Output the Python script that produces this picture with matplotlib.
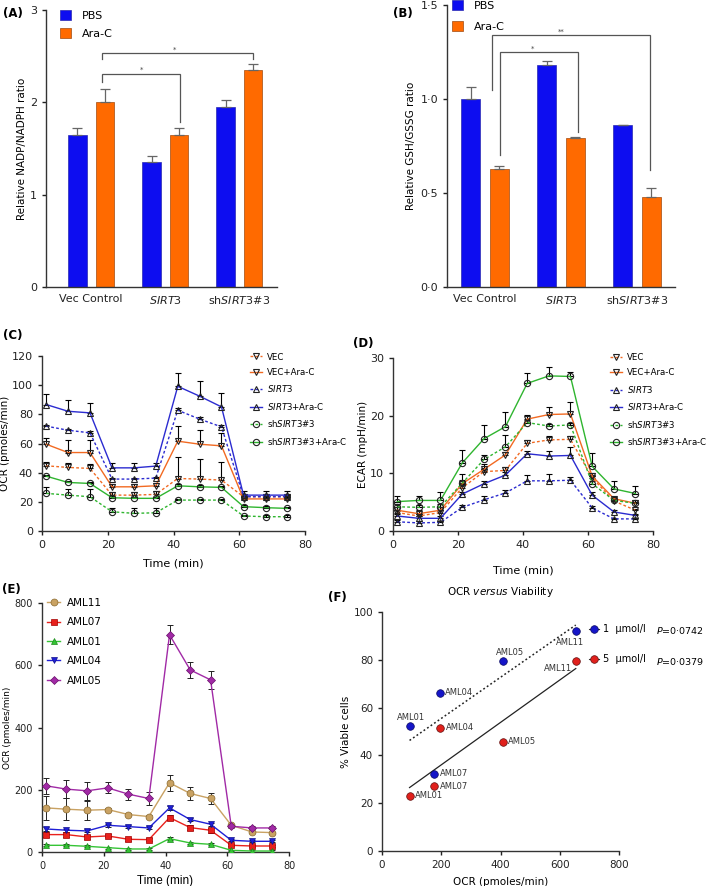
import matplotlib
matplotlib.use('Agg')
import matplotlib.pyplot as plt
from matplotlib.lines import Line2D
import numpy as np

plt.rcParams['font.family'] = ['DejaVu Sans']
plt.rcParams['mathtext.fontset'] = 'dejavusans'

# (A) / (B) bar panels
groups = ['Vec Control', r'$\mathit{SIRT3}$', r'sh$\mathit{SIRT3\#3}$']
nadp_pbs = [1.65, 1.35, 1.95]
nadp_pbs_err = [0.07, 0.07, 0.07]
nadp_arac = [2.00, 1.65, 2.35]
nadp_arac_err = [0.14, 0.07, 0.07]

gsh_pbs = [1.00, 1.18, 0.86]
gsh_pbs_err = [0.065, 0.022, 0.003]
gsh_arac = [0.63, 0.795, 0.478]
gsh_arac_err = [0.013, 0.004, 0.046]

# (C) / (D) Seahorse time course
time_points = [1.3, 7.9, 14.6, 21.3, 28.0, 34.6, 41.3, 48.0, 54.6, 61.3, 68.0, 74.6]
series_labels = ['VEC', 'VEC+Ara-C', r'$\mathit{SIRT3}$', r'$\mathit{SIRT3}$+Ara-C',
                 r'sh$\mathit{SIRT3\#3}$', r'sh$\mathit{SIRT3\#3}$+Ara-C']

ocr_vec = [44.7, 43.6, 42.9, 24.6, 24.6, 25.1, 36.0, 35.6, 34.9, 23.5, 23.5, 23.5]
ocr_vec_err = [2.5, 3, 3, 2, 2, 2, 15, 14, 12.5, 2, 2, 2]
ocr_vec_arac = [59.5, 53.8, 53.8, 30.3, 30.3, 31.0, 61.6, 59.5, 58.4, 22.0, 22.0, 22.0]
ocr_vec_arac_err = [4.5, 8.5, 8.5, 2, 2, 2, 10.5, 10, 9, 2, 2, 2]
ocr_sirt3 = [71.9, 69.1, 67.3, 35.6, 35.6, 36.3, 82.8, 76.7, 71.4, 23.5, 23.5, 23.5]
ocr_sirt3_err = [1.0, 1.0, 1.0, 1.0, 1.0, 1.0, 1.5, 1.5, 1.5, 1.0, 1.0, 1.0]
ocr_sirt3_arac = [86.7, 82.1, 81.0, 43.3, 43.3, 44.5, 99.2, 92.4, 85.1, 24.6, 24.6, 24.6]
ocr_sirt3_arac_err = [7.5, 7.6, 6.8, 3, 3, 2.3, 9.2, 10.3, 9.8, 2.5, 3, 3]
ocr_sh = [25.8, 24.6, 23.5, 13.2, 12.1, 12.5, 21.2, 21.2, 21.2, 10.3, 9.8, 9.8]
ocr_sh_err = [4.5, 4.5, 5, 2.5, 3.5, 3, 1, 1, 1, 1, 1, 1]
ocr_sh_arac = [37.6, 33.3, 32.6, 22.8, 22.4, 22.4, 31.0, 30.3, 29.9, 16.7, 16.0, 15.5]
ocr_sh_arac_err = [1, 1, 1, 1, 1, 1, 1, 1, 1, 1, 1, 1]

ecar_vec = [3.2, 2.6, 3.2, 7.5, 10.3, 10.5, 15.2, 15.8, 15.9, 9.2, 5.2, 3.6]
ecar_vec_err = [0.4, 0.4, 0.4, 0.5, 0.6, 0.6, 0.6, 0.6, 0.6, 0.4, 0.3, 0.3]
ecar_vec_arac = [3.6, 3.0, 3.6, 8.2, 10.7, 13.2, 19.4, 20.2, 20.3, 9.5, 5.6, 4.8]
ecar_vec_arac_err = [0.5, 0.6, 0.5, 1.6, 1.0, 0.5, 0.8, 1.3, 2.1, 0.5, 0.3, 0.5]
ecar_sirt3 = [1.6, 1.4, 1.5, 4.1, 5.4, 6.6, 8.7, 8.7, 8.8, 4.0, 2.1, 2.1]
ecar_sirt3_err = [0.3, 0.3, 0.3, 0.4, 0.6, 0.5, 1.0, 1.1, 0.6, 0.4, 0.2, 0.2]
ecar_sirt3_arac = [2.6, 2.2, 2.2, 6.4, 8.2, 9.7, 13.4, 13.0, 13.1, 6.2, 3.3, 2.7]
ecar_sirt3_arac_err = [0.4, 0.4, 0.4, 0.4, 0.4, 0.6, 0.5, 0.8, 1.4, 0.5, 0.3, 0.3]
ecar_sh = [4.2, 4.1, 4.2, 8.3, 12.4, 14.6, 18.8, 18.2, 18.4, 8.2, 5.3, 4.8]
ecar_sh_err = [0.4, 0.4, 0.4, 0.5, 0.8, 2.1, 0.4, 0.4, 0.4, 0.4, 0.3, 0.3]
ecar_sh_arac = [5.1, 5.3, 5.3, 11.8, 16.0, 18.1, 25.6, 26.9, 26.8, 11.2, 7.3, 6.5]
ecar_sh_arac_err = [0.9, 0.8, 1.4, 2.2, 2.3, 2.5, 1.8, 1.6, 0.8, 2.3, 1.3, 1.3]

# (E) primary AML OCR
aml_labels = ['AML11', 'AML07', 'AML01', 'AML04', 'AML05']
aml11_ocr = [141.8, 137.5, 134.3, 136.4, 120.3, 113.9, 222.3, 188.0, 171.9, 85.9, 64.4, 62.3]
aml11_err = [38, 35, 30, 5, 5, 5, 25, 20, 18, 5, 3, 3]
aml07_ocr = [55.9, 55.9, 48.3, 51.6, 40.8, 39.7, 110.6, 78.4, 69.8, 21.5, 19.3, 19.3]
aml07_err = [8, 8, 5, 5, 5, 5, 8, 8, 8, 3, 3, 3]
aml01_ocr = [21.5, 21.5, 18.3, 14.0, 9.7, 9.7, 43.0, 29.0, 24.7, 5.4, 3.2, 3.2]
aml01_err = [3, 3, 3, 3, 3, 3, 4, 3, 3, 2, 2, 2]
aml04_ocr = [74.0, 70.0, 67.7, 85.9, 81.6, 77.3, 141.8, 104.2, 89.2, 37.6, 34.4, 34.4]
aml04_err = [5, 5, 5, 5, 5, 5, 6, 5, 5, 3, 3, 3]
aml05_ocr = [212.7, 202.0, 196.6, 206.0, 185.8, 171.9, 698.0, 585.0, 553.0, 82.7, 77.3, 77.3]
aml05_err = [25, 28, 28, 18, 18, 20, 30, 25, 30, 5, 5, 5]

# (F) OCR versus viability
ocr_max = [93, 176, 196, 407, 654]          # AML01, AML07, AML04, AML05, AML11
viab_1um = [52.2, 32.4, 66.3, 79.7, 92.0]
viab_5um = [23.2, 27.1, 51.6, 45.7, 79.3]
viab_names = ['AML01', 'AML07', 'AML04', 'AML05', 'AML11']
p_values = ['0\u00b70742', '0\u00b70379']

BLUE = '#0d0df0'
ORANGE = '#ff6a00'
L_ORANGE = '#f26a22'
L_BLUE = '#2b2bd0'
L_GREEN = '#2fb52f'
DASH = (0, (2, 1.6))


def style_axes(ax, size=8):
    ax.spines[['top', 'right']].set_visible(False)
    for s in ['left', 'bottom']:
        ax.spines[s].set_linewidth(1.0)
        ax.spines[s].set_color('#333333')
    ax.tick_params(direction='out', length=3, width=1, labelsize=size,
                   colors='#222222')


def bracket(ax, x1, x2, top, end1, end2, mark, mark_x, mark_y):
    ax.plot([x1, x1, x2, x2], [end1, top, top, end2], color='#555555', lw=0.9,
            solid_joinstyle='miter')
    ax.text(mark_x, mark_y, mark, ha='center', va='center', fontsize=5,
            color='#444444')


def bar_panel(ax, pbs, pbs_err, arac, arac_err):
    x = np.arange(len(groups))
    z = np.zeros(len(groups))
    ekw = dict(ecolor='#666666', lw=0.9, capsize=3.5, capthick=0.9)
    ax.bar(x - 0.185, pbs, 0.25, color=BLUE, edgecolor='#2a2ab0', lw=0.5,
           yerr=[z, pbs_err], error_kw=ekw, label='PBS')
    ax.bar(x + 0.185, arac, 0.25, color=ORANGE, edgecolor='#a04a10', lw=0.5,
           yerr=[z, arac_err], error_kw=ekw, label='Ara-C')
    ax.set_xticks(x)
    ax.set_xticklabels(groups, fontsize=8)


def time_panel(ax, values, errors, ylim, yticks, ylabel):
    colors = [L_ORANGE, L_ORANGE, L_BLUE, L_BLUE, L_GREEN, L_GREEN]
    markers = ['v', 'v', '^', '^', 'o', 'o']
    styles = [DASH, '-', DASH, '-', DASH, '-']
    t = np.array(time_points)
    for vals, errs, c, m, ls, lab in zip(values, errors, colors, markers, styles,
                                         series_labels):
        ax.errorbar(t, vals, yerr=[np.zeros(len(t)), errs], fmt='none',
                    ecolor='black', elinewidth=0.8, capsize=2.5, capthick=0.8,
                    zorder=2)
        ax.plot(t, vals, color=c, ls=ls, lw=1.0, marker=m, ms=4.5,
                mfc='none', mec='#222222', mew=0.8, zorder=3, label=lab)
    ax.set_xlim(0, 80)
    ax.set_ylim(*ylim)
    ax.set_xticks([0, 20, 40, 60, 80])
    ax.set_yticks(yticks)
    ax.set_ylabel(ylabel, fontsize=7.5, labelpad=1)
    style_axes(ax)


def main():
    fig = plt.figure(figsize=(7.09, 8.86), dpi=100)
    W, H = 709.0, 886.0

    def axes_px(l, r, t, b):
        return fig.add_axes([l / W, 1 - b / H, (r - l) / W, (b - t) / H])

    # (A)
    ax = axes_px(46, 277, 10, 287)
    bar_panel(ax, nadp_pbs, nadp_pbs_err, nadp_arac, nadp_arac_err)
    ax.set_xlim(-0.61, 2.51)
    ax.set_ylim(0, 3)
    ax.set_yticks([0, 1, 2, 3])
    ax.set_ylabel('Relative NADP/NADPH ratio', fontsize=7.5, labelpad=2)
    style_axes(ax)
    ax.tick_params(axis='x', length=0, pad=5)
    bracket(ax, 0.145, 2.19, 2.53, 2.47, 2.47, '*', 1.13, 2.57)
    bracket(ax, 0.145, 1.20, 2.31, 2.22, 1.79, '*', 0.685, 2.35)
    ax.legend(loc='upper left', bbox_to_anchor=(0.06, 1.0), frameon=False,
              fontsize=8, handlelength=1.0, handleheight=1.0, handletextpad=1.0,
              labelspacing=0.67, borderpad=0, borderaxespad=0)

    # (B)
    ax = axes_px(447, 675, 5, 287)
    bar_panel(ax, gsh_pbs, gsh_pbs_err, gsh_arac, gsh_arac_err)
    ax.set_xlim(-0.5, 2.5)
    ax.set_ylim(0, 1.5)
    ax.set_yticks([0, 0.5, 1.0, 1.5])
    ax.set_yticklabels(['0\u00b70', '0\u00b75', '1\u00b70', '1\u00b75'])
    ax.set_ylabel('Relative GSH/GSSG ratio', fontsize=7.5, labelpad=3)
    style_axes(ax)
    ax.tick_params(axis='x', length=0, pad=5)
    bracket(ax, 0.095, 2.17, 1.34, 1.05, 0.62, '**', 1.0, 1.36)
    bracket(ax, 0.20, 1.23, 1.248, 0.70, 0.825, '*', 0.62, 1.265)
    ax.legend(loc='upper left', bbox_to_anchor=(0.022, 1.018), frameon=False,
              fontsize=8, handlelength=1.0, handleheight=1.0, handletextpad=1.0,
              labelspacing=0.94, borderpad=0, borderaxespad=0)

    # (C)
    ax = axes_px(42, 305, 356, 531)
    time_panel(ax,
               [ocr_vec, ocr_vec_arac, ocr_sirt3, ocr_sirt3_arac, ocr_sh, ocr_sh_arac],
               [ocr_vec_err, ocr_vec_arac_err, ocr_sirt3_err, ocr_sirt3_arac_err,
                ocr_sh_err, ocr_sh_arac_err],
               (0, 120), [0, 20, 40, 60, 80, 100, 120], 'OCR (pmoles/min)')
    ax.set_xlabel('Time (min)', fontsize=8, labelpad=6)
    ax.legend(loc='upper left', bbox_to_anchor=(0.79, 1.02), frameon=False,
              fontsize=6.2, handlelength=1.4, handletextpad=0.6, labelspacing=0.75,
              borderpad=0, borderaxespad=0)

    # (D)
    ax = axes_px(393, 653, 358, 531)
    time_panel(ax,
               [ecar_vec, ecar_vec_arac, ecar_sirt3, ecar_sirt3_arac, ecar_sh,
                ecar_sh_arac],
               [ecar_vec_err, ecar_vec_arac_err, ecar_sirt3_err, ecar_sirt3_arac_err,
                ecar_sh_err, ecar_sh_arac_err],
               (0, 30), [0, 10, 20, 30], 'ECAR (mpH/min)')
    ax.set_xlabel('Time (min)', fontsize=8, labelpad=11)
    ax.legend(loc='upper left', bbox_to_anchor=(0.835, 1.03), frameon=False,
              fontsize=6.2, handlelength=1.4, handletextpad=0.6, labelspacing=0.75,
              borderpad=0, borderaxespad=0)

    # (E)
    ax = axes_px(42, 289, 603, 852)
    t = np.array(time_points)
    e_vals = [aml11_ocr, aml07_ocr, aml01_ocr, aml04_ocr, aml05_ocr]
    e_errs = [aml11_err, aml07_err, aml01_err, aml04_err, aml05_err]
    e_colors = ['#c9a263', '#e8201c', '#35c435', '#1f1fd6', '#a12aa6']
    e_edges = ['#8a6a30', '#a00000', '#1a8a1a', '#10108a', '#6a106a']
    e_markers = ['o', 's', '^', 'v', 'D']
    e_sizes = [5, 5, 5, 5, 3.8]
    for vals, errs, c, ec, m, s, lab in zip(e_vals, e_errs, e_colors, e_edges,
                                            e_markers, e_sizes, aml_labels):
        ax.errorbar(t, vals, yerr=errs, fmt='none', ecolor='#222222',
                    elinewidth=0.7, capsize=2, capthick=0.7, zorder=2)
        ax.plot(t, vals, color=c, lw=1.0, marker=m, ms=s, mfc=c, mec=ec,
                mew=0.5, zorder=3, label=lab)
    ax.set_xlim(0, 80)
    ax.set_ylim(0, 800)
    ax.set_xticks([0, 20, 40, 60, 80])
    ax.set_yticks([0, 200, 400, 600, 800])
    style_axes(ax, size=7)
    ax.set_ylabel('OCR (pmoles/min)', fontsize=6.5, labelpad=2)
    ax.set_xlabel('Time (min)', fontsize=8.5, family='Liberation Sans', labelpad=3)
    ax.legend(loc='upper left', bbox_to_anchor=(0.02, 1.02), frameon=False,
              fontsize=7.5, handlelength=1.3, handletextpad=0.6, labelspacing=0.9,
              borderpad=0, borderaxespad=0)

    # (F)
    ax = axes_px(382, 619, 612, 851)
    x = np.array(ocr_max, dtype=float)
    xs = np.array([x.min(), x.max()])
    k1 = np.polyfit(x, viab_1um, 1)
    k5 = np.polyfit(x, viab_5um, 1)
    ax.plot(xs, np.polyval(k1, xs), color='#222222', ls=(0, (1.2, 1.6)), lw=1.1)
    ax.plot(xs, np.polyval(k5, xs), color='#222222', lw=0.9)
    ax.scatter(x, viab_1um, s=30, color='#1515c8', edgecolor='#0a0a60', lw=0.5,
               zorder=3)
    ax.scatter(x, viab_5um, s=30, color='#e0201c', edgecolor='#601010', lw=0.5,
               zorder=3)
    blue_off = [(1, 9, 'center'), (6, 0, 'left'), (5, 0, 'left'), (7, 8, 'center'),
                (-6, -11, 'center')]
    red_off = [(5, 0, 'left'), (6, 0, 'left'), (6, 0, 'left'), (5, 0, 'left'),
               (-4, -7, 'right')]
    for xi, yi, name, (dx, dy, ha) in zip(x, viab_1um, viab_names, blue_off):
        ax.annotate(name, (xi, yi), xytext=(dx, dy), textcoords='offset pixels',
                    ha=ha, va='center', fontsize=6, color='#333333')
    for xi, yi, name, (dx, dy, ha) in zip(x, viab_5um, viab_names, red_off):
        ax.annotate(name, (xi, yi), xytext=(dx, dy), textcoords='offset pixels',
                    ha=ha, va='center', fontsize=6, color='#333333')
    ax.set_xlim(0, 800)
    ax.set_ylim(0, 100)
    ax.set_xticks([0, 200, 400, 600, 800])
    ax.set_yticks([0, 20, 40, 60, 80, 100])
    style_axes(ax, size=7.5)
    ax.set_xlabel('OCR (pmoles/min)', fontsize=7.5, labelpad=5)
    ax.set_ylabel('% Viable cells', fontsize=7.5, labelpad=2)
    ax.set_title(r'OCR $\it{versus}$ Viability', fontsize=7.5, pad=12)
    h1 = Line2D([], [], color='#333333', lw=0.8, marker='o', ms=5.5, mfc='#1515c8',
                mec='#0a0a60', mew=0.5)
    h5 = Line2D([], [], color='#333333', lw=0.8, marker='o', ms=5.5, mfc='#e0201c',
                mec='#601010', mew=0.5)
    ax.legend([h1, h5], ['1  \u00b5mol/l', '5  \u00b5mol/l'], loc='upper left',
              bbox_to_anchor=(0.873, 0.95), frameon=False, fontsize=7,
              handlelength=1.0, handletextpad=0.5, labelspacing=2.1,
              borderpad=0, borderaxespad=0)
    for p, py in zip(p_values, [631, 661.6]):
        fig.text(656 / W, 1 - py / H, r'$\it{P}$=' + p, fontsize=6.8, va='center')

    # panel letters
    for lab, px, py in [('(A)', 3, 13), ('(B)', 393, 13), ('(C)', 3, 336),
                        ('(D)', 353, 344), ('(E)', 2, 589), ('(F)', 328, 597)]:
        fig.text(px / W, 1 - py / H, lab, fontsize=8.5, fontweight='bold',
                 va='center')

    fig.savefig('out.png', dpi=100)


if __name__ == "__main__":
    main()
